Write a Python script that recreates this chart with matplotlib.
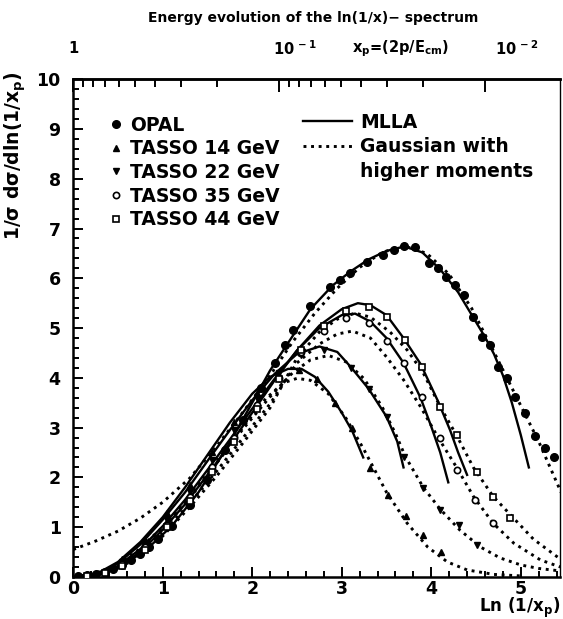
import numpy as np
import matplotlib
matplotlib.use("Agg")
import matplotlib.pyplot as plt
from matplotlib.ticker import MultipleLocator
from matplotlib.lines import Line2D

plt.rcParams['font.weight'] = 'bold'
plt.rcParams['axes.labelweight'] = 'bold'
plt.rcParams['mathtext.default'] = 'bf'

# OPAL data (91 GeV)
opal_x = [0.05, 0.15, 0.25, 0.35, 0.45, 0.55, 0.65, 0.75, 0.85, 0.95, 1.10, 1.30, 1.50, 1.70, 1.90,
          2.10, 2.25, 2.37, 2.46, 2.65, 2.87, 2.98, 3.09, 3.28, 3.46, 3.58, 3.70, 3.82, 3.97, 4.07,
          4.16, 4.27, 4.36, 4.47, 4.57, 4.66, 4.75, 4.85, 4.94, 5.05, 5.16, 5.27, 5.37]
opal_y = [0.02, 0.03, 0.05, 0.10, 0.15, 0.24, 0.34, 0.46, 0.60, 0.76, 1.02, 1.45, 1.95, 2.55, 3.15,
          3.80, 4.30, 4.65, 4.96, 5.45, 5.82, 5.96, 6.10, 6.33, 6.47, 6.57, 6.64, 6.62, 6.30, 6.20,
          6.03, 5.86, 5.66, 5.22, 4.82, 4.66, 4.22, 4.00, 3.61, 3.29, 2.83, 2.59, 2.41]

# TASSO data
t14_x = [0.15, 0.35, 0.55, 0.80, 1.05, 1.30, 1.55, 1.80, 2.05, 2.30, 2.52, 2.72, 2.92, 3.12, 3.32, 3.52, 3.72, 3.91, 4.11]
t14_y = [0.03, 0.12, 0.35, 0.75, 1.28, 1.85, 2.50, 3.12, 3.70, 4.05, 4.15, 3.98, 3.50, 3.00, 2.19, 1.65, 1.22, 0.84, 0.50]
t22_x = [0.15, 0.35, 0.55, 0.80, 1.05, 1.30, 1.55, 1.80, 2.05, 2.30, 2.55, 2.80, 3.10, 3.30, 3.50, 3.70, 3.91, 4.10, 4.31, 4.51]
t22_y = [0.02, 0.10, 0.30, 0.66, 1.15, 1.70, 2.35, 2.95, 3.60, 4.10, 4.45, 4.55, 4.20, 3.78, 3.22, 2.40, 1.79, 1.35, 1.04, 0.64]
t35_x = [0.15, 0.35, 0.55, 0.80, 1.05, 1.30, 1.55, 1.80, 2.05, 2.30, 2.55, 2.80, 3.05, 3.30, 3.50, 3.70, 3.90, 4.10, 4.29, 4.49, 4.69]
t35_y = [0.02, 0.08, 0.25, 0.60, 1.05, 1.60, 2.20, 2.80, 3.45, 4.00, 4.52, 4.95, 5.20, 5.10, 4.75, 4.30, 3.61, 2.80, 2.15, 1.55, 1.08]
t44_x = [0.15, 0.35, 0.55, 0.80, 1.05, 1.30, 1.55, 1.80, 2.05, 2.30, 2.55, 2.80, 3.05, 3.30, 3.50, 3.71, 3.90, 4.10, 4.29, 4.51, 4.69, 4.88]
t44_y = [0.02, 0.07, 0.22, 0.55, 1.00, 1.52, 2.10, 2.72, 3.38, 3.98, 4.55, 5.05, 5.35, 5.42, 5.22, 4.76, 4.22, 3.41, 2.85, 2.11, 1.61, 1.18]

# MLLA curves
m91_x = [0.20, 0.50, 0.80, 1.10, 1.40, 1.70, 2.00, 2.20, 2.40, 2.65, 2.90, 3.10, 3.30, 3.50, 3.70,
         3.90, 4.10, 4.30, 4.50, 4.60, 4.70, 4.80, 4.90, 5.00, 5.09]
m91_y = [0.00, 0.18, 0.52, 1.02, 1.70, 2.55, 3.50, 4.15, 4.70, 5.38, 5.86, 6.14, 6.38, 6.55, 6.64,
         6.52, 6.18, 5.72, 5.12, 4.82, 4.48, 4.05, 3.50, 2.85, 2.20]
m14_x = [0.10, 0.30, 0.50, 0.75, 1.00, 1.25, 1.50, 1.75, 2.00, 2.20, 2.40, 2.55, 2.70, 2.85, 3.00, 3.12, 3.24]
m14_y = [0.00, 0.10, 0.30, 0.70, 1.20, 1.80, 2.45, 3.10, 3.68, 4.02, 4.18, 4.18, 4.02, 3.72, 3.30, 2.92, 2.40]
m22_x = [0.10, 0.30, 0.50, 0.75, 1.00, 1.25, 1.50, 1.75, 2.00, 2.25, 2.50, 2.75, 2.95, 3.10, 3.30, 3.50, 3.62, 3.69]
m22_y = [0.00, 0.08, 0.27, 0.65, 1.15, 1.70, 2.33, 2.95, 3.55, 4.08, 4.48, 4.63, 4.52, 4.22, 3.78, 3.22, 2.72, 2.20]
m35_x = [0.10, 0.30, 0.50, 0.75, 1.00, 1.25, 1.50, 1.75, 2.00, 2.25, 2.50, 2.75, 3.00, 3.15, 3.32, 3.50, 3.69, 3.88, 4.00, 4.10, 4.19]
m35_y = [0.00, 0.06, 0.22, 0.56, 1.02, 1.55, 2.15, 2.76, 3.38, 3.98, 4.55, 5.00, 5.26, 5.29, 5.13, 4.80, 4.30, 3.60, 3.02, 2.50, 1.90]
m44_x = [0.10, 0.30, 0.50, 0.75, 1.00, 1.25, 1.50, 1.75, 2.00, 2.25, 2.50, 2.75, 3.00, 3.18, 3.32, 3.50, 3.69, 3.88, 4.07, 4.21, 4.30, 4.40]
m44_y = [0.00, 0.05, 0.20, 0.50, 0.95, 1.46, 2.05, 2.66, 3.30, 3.95, 4.55, 5.05, 5.38, 5.50, 5.46, 5.26, 4.80, 4.28, 3.55, 2.95, 2.50, 2.05]

# Gaussian with higher moments
g91_x = [0.00, 0.25, 0.50, 0.75, 1.00, 1.30, 1.60, 1.90, 2.20, 2.45, 2.70, 2.95, 3.20, 3.45, 3.70,
         3.95, 4.20, 4.45, 4.70, 4.95, 5.20, 5.45]
g91_y = [0.55, 0.72, 0.92, 1.18, 1.50, 1.98, 2.62, 3.32, 4.05, 4.72, 5.30, 5.80, 6.22, 6.52, 6.65,
         6.50, 6.08, 5.40, 4.52, 3.62, 2.72, 1.70]
g14_x = [0.10, 0.40, 0.70, 1.00, 1.30, 1.60, 1.90, 2.15, 2.35, 2.50, 2.65, 2.85, 3.05, 3.25, 3.50, 3.73, 3.96, 4.18, 4.40, 4.70, 5.00]
g14_y = [0.02, 0.15, 0.50, 1.00, 1.62, 2.32, 3.02, 3.58, 3.90, 3.99, 3.95, 3.68, 3.18, 2.55, 1.70, 1.08, 0.60, 0.30, 0.14, 0.05, 0.02]
g22_x = [0.10, 0.40, 0.70, 1.00, 1.30, 1.60, 1.90, 2.20, 2.45, 2.65, 2.85, 3.05, 3.25, 3.45, 3.60, 3.71,
         3.91, 4.10, 4.32, 4.55, 4.77, 5.00, 5.20, 5.44]
g22_y = [0.02, 0.12, 0.45, 0.95, 1.58, 2.28, 2.98, 3.62, 4.10, 4.36, 4.45, 4.32, 3.98, 3.42, 2.88, 2.42,
         1.80, 1.36, 0.94, 0.60, 0.38, 0.24, 0.17, 0.12]
g35_x = [0.10, 0.40, 0.70, 1.00, 1.30, 1.60, 1.90, 2.20, 2.50, 2.75, 2.95, 3.12, 3.32, 3.50, 3.69, 3.88,
         4.07, 4.29, 4.47, 4.69, 4.92, 5.22, 5.44]
g35_y = [0.02, 0.10, 0.40, 0.88, 1.48, 2.12, 2.80, 3.48, 4.30, 4.68, 4.88, 4.94, 4.80, 4.42, 3.96, 3.42,
         2.82, 2.18, 1.62, 1.08, 0.68, 0.34, 0.20]
g44_x = [0.10, 0.40, 0.70, 1.00, 1.30, 1.60, 1.90, 2.20, 2.50, 2.75, 2.95, 3.15, 3.32, 3.54, 3.73, 3.91,
         4.10, 4.29, 4.47, 4.69, 4.92, 5.14, 5.44]
g44_y = [0.02, 0.09, 0.36, 0.82, 1.40, 2.02, 2.70, 3.40, 4.40, 4.92, 5.18, 5.30, 5.22, 4.92, 4.56, 4.10,
         3.42, 2.82, 2.20, 1.62, 1.18, 0.76, 0.36]

dot = (0, (1, 1.6))

fig = plt.figure(figsize=(5.63, 6.19), dpi=100)
ax = fig.add_axes([0.130, 0.068, 0.865, 0.804])

for mx, my in [(m91_x, m91_y), (m14_x, m14_y), (m22_x, m22_y), (m35_x, m35_y), (m44_x, m44_y)]:
    ax.plot(mx, my, color='black', lw=1.7, zorder=2)
for gx, gy in [(g91_x, g91_y), (g14_x, g14_y), (g22_x, g22_y), (g35_x, g35_y), (g44_x, g44_y)]:
    ax.plot(gx, gy, color='black', lw=2.1, ls=dot, zorder=2)

ax.plot(opal_x, opal_y, 'o', color='black', ms=5.5, zorder=3)
ax.plot(t14_x, t14_y, '^', color='black', ms=5, zorder=3)
ax.plot(t22_x, t22_y, 'v', color='black', ms=5, zorder=3)
ax.plot(t35_x, t35_y, 'o', mfc='white', mec='black', mew=1.2, ms=4.5, zorder=3)
ax.plot(t44_x, t44_y, 's', mfc='white', mec='black', mew=1.2, ms=4, zorder=3)

ax.set_xlim(0, 5.44)
ax.set_ylim(0, 10)
ax.set_xticks(range(6))
ax.set_yticks(range(11))
ax.xaxis.set_minor_locator(MultipleLocator(0.2))
ax.yaxis.set_minor_locator(MultipleLocator(0.2))
ax.tick_params(which='both', direction='in', top=False, right=False, width=1.4, labelsize=12.5)
ax.tick_params(axis='y', which='both', pad=9)
ax.tick_params(axis='x', which='both', pad=2)
ax.tick_params(which='major', length=7)
ax.tick_params(which='minor', length=4)
for s in ax.spines.values():
    s.set_linewidth(1.8)
ax.spines['right'].set_linewidth(1.0)

# top axis: x_p
sec = ax.secondary_xaxis('top', functions=(lambda x: np.exp(-x),
                                           lambda p: -np.log(np.clip(p, 1e-12, None))))
sec.set_xticks([1, 0.1, 0.01])
sec.set_xticks([k * 10.0 ** -n for n in range(3) for k in range(2, 10)], minor=True)
sec.set_xticklabels([])
sec.tick_params(which='both', direction='in', width=1.4)
sec.tick_params(which='major', length=9)
sec.tick_params(which='minor', length=6)
sec.spines['top'].set_linewidth(1.8)

tr = ax.get_xaxis_transform()
ax.text(0.0, 1.062, '1', transform=tr, ha='center', va='center', fontsize=10.5)
ax.text(2.23, 1.062, r'10$^{\,-1}$', transform=tr, ha='left', va='center', fontsize=10.5)
ax.text(3.12, 1.062, r'x$_p$=(2p/E$_{cm}$)', transform=tr, ha='left', va='center', fontsize=10.5)
ax.text(4.71, 1.062, r'10$^{\,-2}$', transform=tr, ha='left', va='center', fontsize=10.5)

fig.text(0.556, 0.971, 'Energy evolution of the ln(1/x)\u2212 spectrum', ha='center', va='center', fontsize=10)
fig.text(0.027, 0.748, r'1/σ dσ/dln(1/x$_p$)', rotation=90, ha='center', va='center', fontsize=13.5)
ax.set_xlabel(r'Ln (1/x$_p$)', loc='right', fontsize=12, labelpad=-1)

# legends
data_handles = [
    Line2D([], [], ls='none', marker='o', color='black', ms=5.5),
    Line2D([], [], ls='none', marker='^', color='black', ms=5),
    Line2D([], [], ls='none', marker='v', color='black', ms=5),
    Line2D([], [], ls='none', marker='o', mfc='white', mec='black', mew=1.2, ms=4.5),
    Line2D([], [], ls='none', marker='s', mfc='white', mec='black', mew=1.2, ms=4),
]
data_labels = ['OPAL', 'TASSO 14 GeV', 'TASSO 22 GeV', 'TASSO 35 GeV', 'TASSO 44 GeV']
leg1 = ax.legend(data_handles, data_labels, loc='upper left', bbox_to_anchor=(0.075, 0.927),
                 frameon=False, fontsize=13.5, handlelength=0.7, handletextpad=0.4,
                 labelspacing=0.25, borderpad=0, borderaxespad=0)
ax.add_artist(leg1)

line_handles = [
    Line2D([], [], color='black', lw=1.7),
    Line2D([], [], color='black', lw=2.1, ls=dot),
    Line2D([], [], ls='none'),
]
line_labels = ['MLLA', 'Gaussian with', 'higher moments']
ax.legend(line_handles, line_labels, loc='upper left', bbox_to_anchor=(0.472, 0.933),
          frameon=False, fontsize=13.5, handlelength=2.6, handletextpad=0.45,
          labelspacing=0.3, borderpad=0, borderaxespad=0)

fig.savefig('out.png', dpi=100)
